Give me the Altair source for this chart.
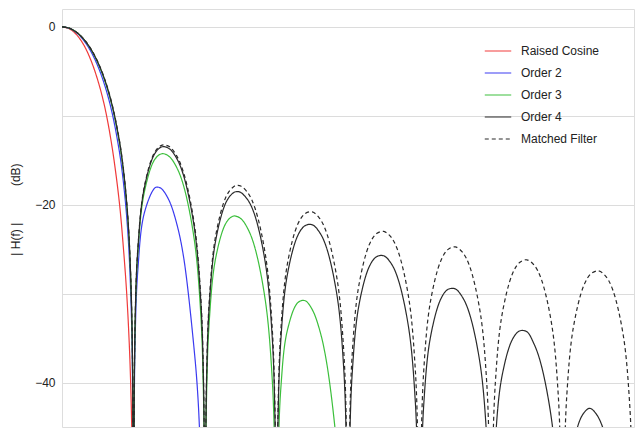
import altair as alt
import pandas as pd

# ---- data (frequency f, magnitude in dB) ----
SERIES = ["Raised Cosine", "Order 2", "Order 3", "Order 4", "Matched Filter"]
COLORS = ["#f03a3a", "#3a3af0", "#3cbf3c", "#2a2a2a", "#2a2a2a"]

rc_f = [0, 0.1, 0.2, 0.3, 0.4, 0.5, 0.6, 0.7, 0.8, 0.86, 0.905, 0.94, 0.96, 0.975, 1.0]
rc_db = [0, -0.21, -0.86, -1.98, -3.68, -6.0, -9.1, -13.5, -19.6, -25.0, -30.0, -35.5, -40.0, -45.0, -60]

o2_f = [0, 0.1, 0.2, 0.3, 0.4, 0.5, 0.6, 0.7, 0.8, 0.85, 0.9, 0.94, 0.98, 1.0,
        1.02, 1.06, 1.15, 1.3, 1.35, 1.4, 1.5, 1.6, 1.7, 1.85, 1.9, 1.94, 2.0]
o2_db = [0, -0.16, -0.65, -1.49, -2.72, -4.40, -6.64, -9.65, -13.91, -16.86, -20.90, -25.79, -35.84, -60,
         -36.38, -27.44, -20.98, -18.11, -18.04, -18.27, -19.57, -22.00, -25.86, -36.44, -41.5, -48.5, -60]

o3_f = [0, 0.1, 0.2, 0.3, 0.4, 0.5, 0.6, 0.7, 0.8, 0.85, 0.9, 0.94, 0.98, 1.0,
        1.02, 1.06, 1.15, 1.3, 1.4, 1.5, 1.6, 1.7, 1.85, 1.94, 1.98, 2.0,
        2.02, 2.06, 2.15, 2.3, 2.4, 2.5, 2.6, 2.7, 2.85, 2.94, 2.98, 3.0,
        3.02, 3.06, 3.15, 3.3, 3.4, 3.5, 3.6, 3.7, 3.85, 3.94]
o3_db = [0, -0.15, -0.60, -1.37, -2.49, -4.04, -6.11, -8.92, -12.92, -15.73, -19.61, -24.37, -34.27, -60,
         -34.66, -25.54, -18.66, -14.88, -14.27, -14.59, -15.75, -17.86, -23.93, -32.23, -42.00, -60,
         -42.26, -33.05, -25.97, -21.98, -21.28, -21.56, -22.73, -24.90, -31.13, -39.60, -49.45, -60,
         -49.81, -40.71, -34.2, -31.0, -30.8, -31.8, -34.0, -37.7, -47.8, -60]

o4_f = [0, 0.1, 0.2, 0.3, 0.4, 0.5, 0.6, 0.7, 0.8, 0.85, 0.9, 0.94, 0.98, 1.0,
        1.02, 1.06, 1.15, 1.3, 1.4, 1.5, 1.6, 1.7, 1.85, 1.94, 1.98, 2.0,
        2.02, 2.06, 2.15, 2.3, 2.4, 2.45, 2.5, 2.6, 2.7, 2.85, 2.94, 2.98, 3.0,
        3.02, 3.06, 3.15, 3.3, 3.4, 3.5, 3.6, 3.7, 3.85, 3.94, 3.98, 4.0,
        4.02, 4.06, 4.15, 4.3, 4.4, 4.5, 4.6, 4.7, 4.85, 4.94, 4.98, 5.0,
        5.02, 5.06, 5.15, 5.3, 5.4, 5.5, 5.6, 5.7, 5.85, 5.94, 5.98, 6.0,
        6.02, 6.06, 6.15, 6.3, 6.4, 6.5, 6.6, 6.7, 6.85, 6.94, 7.0,
        7.15, 7.21, 7.3, 7.38, 7.46, 7.56, 7.65, 8.0]
o4_db = [0, -0.15, -0.60, -1.36, -2.46, -3.97, -6.00, -8.76, -12.70, -15.48, -19.32, -24.04, -33.91, -60,
         -34.27, -25.11, -18.16, -14.23, -13.49, -13.70, -14.74, -16.72, -22.55, -30.70, -40.39, -60,
         -40.58, -31.28, -24.00, -19.64, -18.65, -18.53, -18.63, -19.48, -21.28, -26.87, -34.89, -44.53, -60,
         -44.67, -35.33, -27.95, -23.43, -22.36, -22.26, -23.08, -24.85, -30.40, -38.41, -48.04, -60,
         -48.18, -38.82, -31.44, -26.92, -25.85, -25.75, -26.56, -28.36, -33.94, -41.97, -51.61, -60,
         -51.75, -42.41, -35.05, -30.57, -29.52, -29.47, -30.39, -32.28, -38.03, -46.15, -55.83, -60,
         -56.02, -46.71, -39.45, -35.14, -34.20, -34.28, -35.63, -37.95, -44.35, -52.85, -60,
         -48.5, -45.0, -43.4, -42.9, -43.4, -45.0, -48.5, -60]

mf_f = [0, 0.1, 0.2, 0.3, 0.4, 0.5, 0.6, 0.7, 0.8, 0.85, 0.9, 0.94, 0.98, 1.0,
        1.02, 1.06, 1.15, 1.3, 1.4, 1.5, 1.6, 1.7, 1.85, 1.94, 1.98, 2.0,
        2.02, 2.06, 2.15, 2.3, 2.4, 2.45, 2.5, 2.6, 2.7, 2.85, 2.94, 2.98, 3.0,
        3.02, 3.06, 3.15, 3.3, 3.4, 3.5, 3.6, 3.7, 3.85, 3.94, 3.98, 4.0,
        4.02, 4.06, 4.15, 4.3, 4.4, 4.5, 4.6, 4.7, 4.85, 4.94, 4.98, 5.0,
        5.02, 5.06, 5.15, 5.3, 5.4, 5.5, 5.6, 5.7, 5.85, 5.94, 5.98, 6.0,
        6.02, 6.06, 6.15, 6.3, 6.4, 6.5, 6.6, 6.7, 6.85, 6.94, 6.98, 7.0,
        7.02, 7.06, 7.15, 7.3, 7.4, 7.5, 7.6, 7.7, 7.85, 7.94, 7.98, 8.0]
mf_db = [0, -0.14, -0.58, -1.33, -2.42, -3.92, -5.94, -8.69, -12.62, -15.39, -19.23, -23.95, -33.81, -60,
         -34.16, -25.00, -18.02, -14.06, -13.30, -13.47, -14.46, -16.39, -22.15, -30.25, -39.92, -60,
         -40.09, -30.77, -23.45, -19.02, -17.98, -17.83, -17.90, -18.68, -20.41, -25.90, -33.86, -43.47, -60,
         -43.58, -34.21, -26.77, -22.15, -21.01, -20.82, -21.51, -23.15, -28.51, -36.40, -45.98, -60,
         -46.07, -36.66, -29.16, -24.45, -23.25, -23.01, -23.63, -25.23, -30.52, -38.37, -47.93, -60,
         -48.00, -38.58, -31.04, -26.27, -25.03, -24.75, -25.34, -26.90, -32.15, -39.97, -49.52, -60,
         -49.58, -40.14, -32.58, -27.77, -26.50, -26.20, -26.77, -28.30, -33.52, -41.32, -50.86, -60,
         -50.91, -41.47, -33.89, -29.05, -27.76, -27.44, -28.00, -29.51, -34.70, -42.49, -52.02, -60]

Y_TICKS = [-40, -30, -20, -10, 0]

frames = []
for name, fs, dbs in [
    ("Raised Cosine", rc_f, rc_db),
    ("Order 2", o2_f, o2_db),
    ("Order 3", o3_f, o3_db),
    ("Order 4", o4_f, o4_db),
    ("Matched Filter", mf_f, mf_db),
]:
    frames.append(pd.DataFrame({"f": fs, "dB": dbs, "series": name}))
df = pd.concat(frames, ignore_index=True)

NB = "\u00a0"
y_title = "|" + NB + "H(f)" + NB + "|" + NB * 11 + "(dB)"

legend_opts = dict(
    title=None,
    orient="none",
    legendX=422,
    legendY=28,
    symbolType="stroke",
    symbolSize=700,
    symbolStrokeWidth=1.2,
    labelFont="Liberation Sans",
    labelFontSize=12,
    labelColor="#222222",
    labelOffset=9,
    rowPadding=2,
)

chart = (
    alt.Chart(df)
    .mark_line(clip=True, interpolate="catmull-rom", strokeWidth=1.2)
    .encode(
        x=alt.X("f:Q", scale=alt.Scale(domain=[0, 8], nice=False, zero=False), axis=None),
        y=alt.Y(
            "dB:Q",
            scale=alt.Scale(domain=[-45, 2], nice=False, zero=False),
            axis=alt.Axis(
                values=Y_TICKS,
                labelExpr="datum.value % 20 === 0 ? datum.label : ''",
                ticks=False,
                domain=False,
                grid=True,
                gridColor="#dcdcdc",
                gridWidth=1,
                labelPadding=7,
                labelFont="Liberation Sans",
                labelFontSize=12,
                labelColor="#222222",
                title=y_title,
                titleFont="Liberation Sans",
                titleFontSize=12,
                titleFontWeight="normal",
                titleColor="#222222",
                titleX=-47,
                titleY=200,
                titleAngle=270,
                titleAlign="center",
                titleBaseline="middle",
            ),
        ),
        color=alt.Color(
            "series:N",
            scale=alt.Scale(domain=SERIES, range=COLORS),
            legend=alt.Legend(**legend_opts),
        ),
        strokeDash=alt.StrokeDash(
            "series:N",
            scale=alt.Scale(domain=SERIES, range=[[1, 0], [1, 0], [1, 0], [1, 0], [4, 3]]),
            legend=alt.Legend(**legend_opts),
        ),
    )
    .properties(
        width=572,
        height=418,
        autosize=alt.AutoSizeParams(type="none"),
        padding={"left": 62, "top": 9, "right": 8, "bottom": 9},
    )
    .configure_view(stroke="#222233", strokeWidth=1.5)
    .configure(background="white")
)

chart.save("out.html", embed_options={"renderer": "svg", "actions": False})
